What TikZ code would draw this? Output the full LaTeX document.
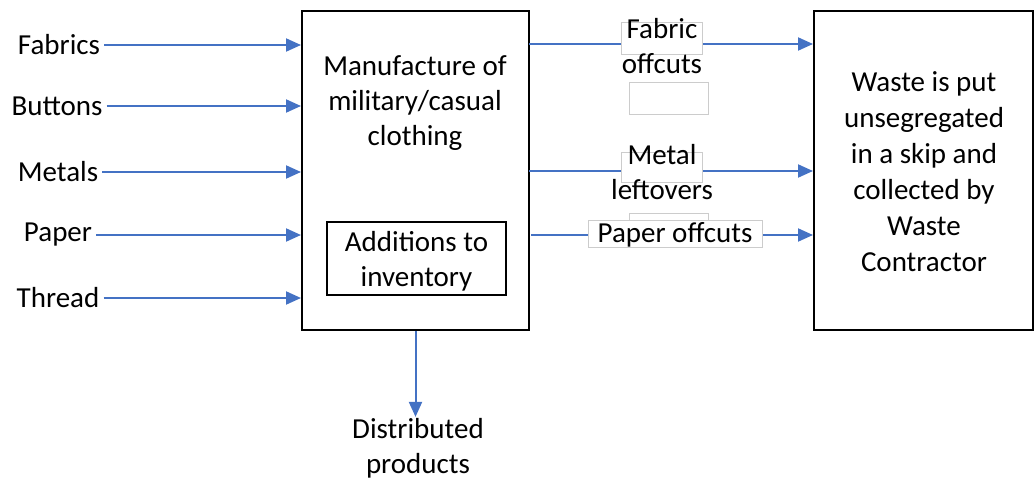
\documentclass[tikz,border=0pt]{standalone}
\usepackage{fontspec}
\setmainfont{Carlito}
\usepackage{tikz}
\usetikzlibrary{arrows.meta}
\definecolor{flowblue}{HTML}{4472C4}

\begin{document}
\begin{tikzpicture}[x=1pt,y=-1pt,
  lbl/.style={font=\fontsize{29}{35}\selectfont, align=center, inner sep=4pt},
  blk/.style={draw=black, line width=2pt, inner sep=0pt},
  tbox/.style={draw=gray!40, fill=white, line width=0.8pt, inner sep=0pt},
  flow/.style={draw=flowblue, line width=2pt, -{Triangle[length=15pt,width=13pt]}}]
\useasboundingbox (0,0) rectangle (1034,479);
% boxes
\node[blk, minimum width=227, minimum height=319] (mfg) at (415.5,170.5) {};
\node[blk, minimum width=219, minimum height=319] (waste) at (923.5,170.5) {};
\node[blk, minimum width=179, minimum height=73] (inv) at (416.5,258.5) {};
\node[lbl] (mfgtxt) at (415,103) {Manufacture of\\military/casual\\clothing};
\node[lbl] (invtxt) at (416.5,261) {Additions to\\inventory};
\node[lbl, font=\fontsize{29}{36}\selectfont] (wastetxt) at (924,172) {Waste is put\\unsegregated\\in a skip and\\collected by\\Waste\\Contractor};
% inputs
\node[lbl] (fab) at (59,45) {Fabrics};
\node[lbl] (btn) at (57,106) {Buttons};
\node[lbl] (met) at (58,172) {Metals};
\node[lbl] (pap) at (58,235) {Paper};
\node[lbl] (thr) at (58,298) {Thread};
\draw[flow] (fab) -- (fab -| mfg.west);
\draw[flow] (btn) -- (btn -| mfg.west);
\draw[flow] (met) -- (met -| mfg.west);
\draw[flow] (pap) -- (pap -| mfg.west);
\draw[flow] (thr) -- (thr -| mfg.west);
% waste flows
\coordinate (fabout) at (529,44);
\coordinate (metout) at (529,171);
\coordinate (papout) at (531,235);
\draw[flow] (fabout) -- (fabout -| waste.west);
\draw[flow] (metout) -- (metout -| waste.west);
\draw[flow] (papout) -- (papout -| waste.west);
\node[tbox, minimum width=81, minimum height=32] (fabbox) at (661.5,38) {};
\node[tbox, minimum width=79, minimum height=32] (gapbox) at (668.5,98) {};
\node[tbox, minimum width=81, minimum height=30] (metbox) at (661.5,167) {};
\node[tbox, minimum width=79, minimum height=32] (papback) at (668.5,229) {};
\node[tbox, minimum width=174, minimum height=27] (papbox) at (675,233.5) {};
\node[lbl] (fabcut) at (662,46) {Fabric\\offcuts};
\node[lbl] (metcut) at (662,172) {Metal\\leftovers};
\node[lbl] (papcut) at (675,235) {Paper offcuts};
% output
\node[lbl, inner sep=1pt] (dist) at (418,448) {Distributed\\products};
\draw[flow] (mfg.south) -- (mfg.south |- dist.north);
\end{tikzpicture}
\end{document}
